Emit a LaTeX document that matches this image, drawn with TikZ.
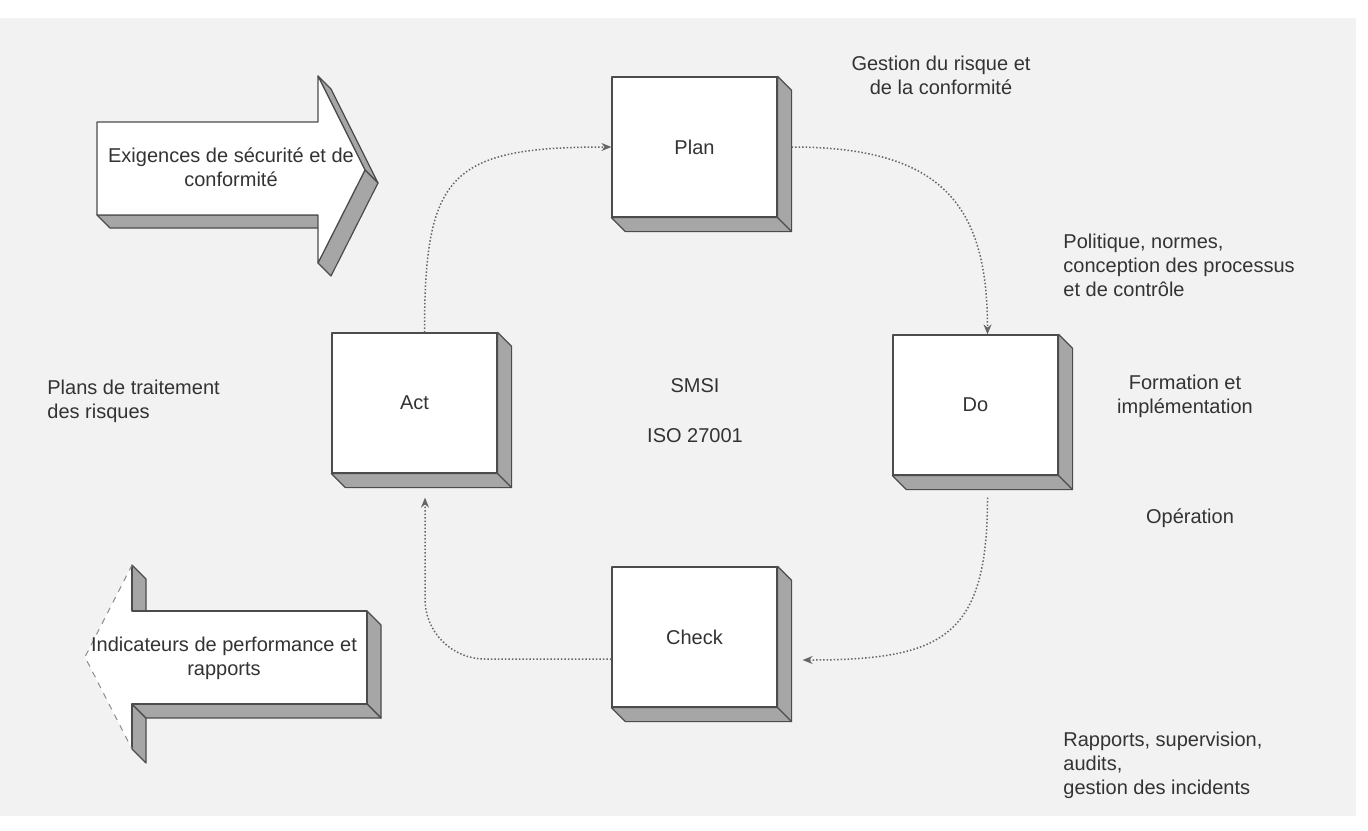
\documentclass[tikz,border=0pt]{standalone}
\usepackage{fontspec}
\setmainfont{Liberation Sans}
\usetikzlibrary{arrows.meta,calc}

% extruded right and bottom faces of a stage box
\newcommand\boxdepth[1]{%
  \path[sideface] (#1.north east) -- ++(14,14) -- ($(#1.south east)+(14,14)$)
    -- ($(#1.south west)+(14,14)$) -- (#1.south west) -- (#1.south east) -- cycle;
  \draw[edge] (#1.south east) -- ++(14,14);}

\begin{document}
\begin{tikzpicture}[x=0.5pt,y=-0.5pt,
  every node/.style={font=\fontsize{10}{12}\selectfont, text=black!80},
  edge/.style={draw=black!70, line width=0.6pt, line join=round},
  sideface/.style={edge, fill=black!35},
  frontface/.style={edge, fill=white},
  stagebox/.style={frontface, minimum width=82.5pt, minimum height=70pt, inner sep=0pt},
  flow/.style={draw=black!60, line width=0.75pt, densely dotted,
               -{Stealth[length=5pt,width=4pt]}},
  txt/.style={align=left, inner sep=0pt},
]
% page
\useasboundingbox (0,0) rectangle (1368,830);
\fill[white] (0,0) rectangle (1368,830);
\fill[black!5] (0,18) rectangle (1356,816);

% PDCA stages
\node[stagebox] (plan)  at (694.5,147) {Plan};
\node[stagebox] (do)    at (975.5,405) {Do};
\node[stagebox] (act)   at (414.5,403) {Act};
\node[stagebox] (check) at (694.5,637) {Check};
\boxdepth{plan}
\boxdepth{do}
\boxdepth{act}
\boxdepth{check}

% cycle
\draw[flow] ([xshift=5pt]act.north) .. controls +(0,-158) and +(-162,0) .. (plan.west);
\draw[flow] ([xshift=7pt]plan.east) .. controls +(150,0) and +(0,-130) .. ([xshift=6pt]do.north);
\draw[flow] ([xshift=6pt,yshift=-11pt]do.south) .. controls +(0,140) and +(140,0)
  .. ([xshift=12.5pt,yshift=-11.5pt]check.east);
\draw[flow, rounded corners=30pt] ([yshift=-11pt]check.west) -| ([xshift=5.25pt,yshift=-12pt]act.south);

% centre
\node (smsi) at (695,386) {SMSI};
\node (iso)  at (695,436) {ISO 27001};

% input arrow
\path[sideface] (318,76) -- (365,170) -- (378,183) -- (331,89) -- cycle;
\path[sideface] (365,170) -- (318,263) -- (331,276) -- (378,183) -- cycle;
\path[sideface] (97,215) -- (318,215) -- (331,228) -- (110,228) -- cycle;
\path[frontface] (97,122) -- (318,122) -- (318,76) -- (365,170) -- (318,263)
  -- (318,215) -- (97,215) -- cycle;
\node[align=center] (req) at (231,167) {Exigences de sécurité et de\\conformité};

% output arrow
\path[sideface] (132,565) -- (146,579) -- (146,625) -- (132,611) -- cycle;
\path[sideface] (132,704) -- (146,718) -- (146,763) -- (132,749) -- cycle;
\path[sideface] (367,611) -- (381,625) -- (381,718) -- (367,704) -- cycle;
\path[sideface] (132,704) -- (367,704) -- (381,718) -- (146,718) -- cycle;
\fill[white] (85,657) -- (132,565) -- (132,611) -- (367,611) -- (367,704)
  -- (132,704) -- (132,749) -- cycle;
\draw[edge] (132,565) -- (132,611) -- (367,611) -- (367,704) -- (132,704) -- (132,749);
\draw[black!45, dashed, line width=0.5pt] (132,565) -- (85,657) -- (132,749);
\node[align=center] (kpi) at (224,658) {Indicateurs de performance et\\rapports};

% annotations
\node[align=center] (gest) at (941,75) {Gestion du risque et\\de la conformité};
\node[txt, anchor=west] (pol) at (1063,265) {Politique, normes,\\conception des processus\\et de contrôle};
\node[align=center] (form) at (1185,396) {Formation et\\implémentation};
\node (op) at (1190,518) {Opération};
\node[txt, anchor=west] (rap) at (1063,765) {Rapports, supervision,\\audits,\\gestion des incidents};
\node[txt, anchor=west] (plans) at (47,401) {Plans de traitement\\des risques};
\end{tikzpicture}
\end{document}
